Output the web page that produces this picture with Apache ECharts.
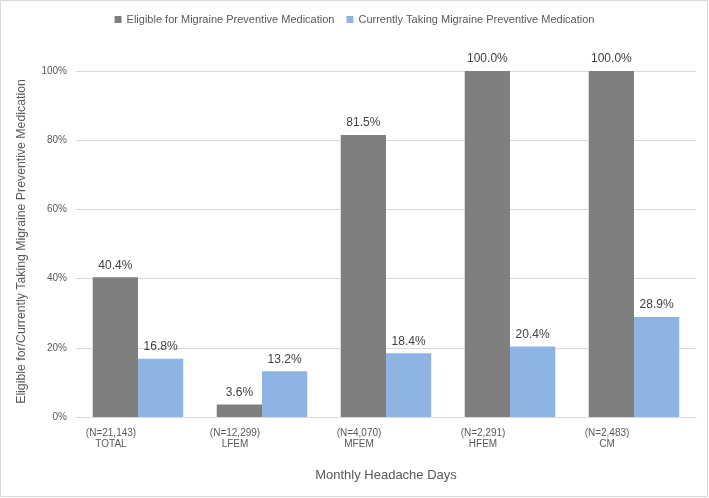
<!DOCTYPE html>
<html><head><meta charset="utf-8">
<script src="https://cdn.jsdelivr.net/npm/echarts@6/dist/echarts.min.js"></script>
<style>html,body{margin:0;padding:0;background:#fff}#c{width:709px;height:498px}</style>
</head><body><div id="c"></div>
<script>
const categories = ['(N=21,143)\nTOTAL', '(N=12,299)\nLFEM', '(N=4,070)\nMFEM', '(N=2,291)\nHFEM', '(N=2,483)\nCM'];
const eligible = [40.4, 3.6, 81.5, 100.0, 100.0];
const taking = [16.8, 13.2, 18.4, 20.4, 28.9];
const yTicks = [0, 20, 40, 60, 80, 100];
const seriesNames = ['Eligible for Migraine Preventive Medication', 'Currently Taking Migraine Preventive Medication'];

const font = 'Liberation Sans, Arial, sans-serif';
const chart = echarts.init(document.getElementById('c'), null, {renderer: 'canvas'});
const lbl = {show: true, position: 'top', distance: 6, fontSize: 12, color: '#404040', fontFamily: font,
  formatter: p => p.value.toFixed(1) + '%'};
chart.setOption({
  animation: false,
  textStyle: {fontFamily: font},
  graphic: [{type: 'rect', shape: {x: 0.5, y: 0.5, width: 707, height: 496},
    style: {fill: 'none', stroke: '#d9d9d9', lineWidth: 1}}],
  legend: {top: 9, left: 'center', itemWidth: 7, itemHeight: 7, itemGap: 12, icon: 'rect',
    textStyle: {fontSize: 11, color: '#595959', fontFamily: font},
    data: seriesNames},
  grid: {left: 76, right: 13, top: 71, bottom: 81},
  xAxis: {type: 'category', data: categories,
    axisLine: {lineStyle: {color: '#d9d9d9'}}, axisTick: {show: false},
    axisLabel: {color: '#595959', fontSize: 10, margin: 11, lineHeight: 11, padding: [0, 54, 0, 0]},
    name: 'Monthly Headache Days', nameLocation: 'middle', nameGap: 52,
    nameTextStyle: {fontSize: 13, color: '#595959'}},
  yAxis: {type: 'value', min: 0, max: 100, interval: 20,
    axisLabel: {formatter: v => yTicks.includes(v) ? v + '%' : '', color: '#595959', fontSize: 10, margin: 9},
    splitLine: {lineStyle: {color: '#d9d9d9'}},
    name: 'Eligible for/Currently Taking Migraine Preventive Medication', nameLocation: 'middle', nameGap: 48,
    nameTextStyle: {fontSize: 12.3, color: '#595959', padding: [0, 0, 0, 5]}},
  series: [
    {name: seriesNames[0], type: 'bar', data: eligible, barGap: '0%', barCategoryGap: '27%',
      itemStyle: {color: '#7f7f7f'}, label: lbl},
    {name: seriesNames[1], type: 'bar', data: taking,
      itemStyle: {color: '#8eb4e3'}, label: lbl}
  ]
});
</script></body></html>
